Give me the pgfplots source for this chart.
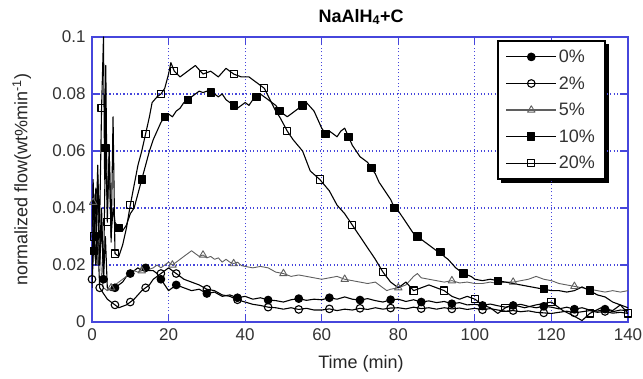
\documentclass[border=0pt]{standalone}
\usepackage{pgfplots}
\pgfplotsset{compat=1.18}
\usepackage{fontspec}
\setmainfont{Liberation Sans}
\usetikzlibrary{backgrounds}
\definecolor{axblue}{RGB}{70,70,220}
\definecolor{curvegray}{RGB}{95,95,95}
\begin{document}
\begin{tikzpicture}
\useasboundingbox (0,0) rectangle (643pt,379pt);
\begin{axis}[
  at={(92pt,57pt)}, anchor=south west,
  scale only axis, width=536pt, height=285pt,
  xmin=0, xmax=140, ymin=0, ymax=0.1,
  xtick={0,20,...,140},
  ytick={0,0.02,0.04,0.06,0.08,0.1},
  yticklabels={0,0.02,0.04,0.06,0.08,0.1},
  /pgf/number format/assume math mode=true,
  tick align=inside, major tick length=8pt,
  tick style={axblue, line width=1.2pt},
  axis line style={axblue, line width=1.5pt},
  grid=major,
  major grid style={axblue, line width=1.2pt, dash pattern=on 1.3pt off 2.2pt},
  xticklabel style={font=\fontsize{17}{20}\selectfont, text=black!80, yshift=-3pt},
  yticklabel style={font=\fontsize{17}{20}\selectfont, text=black!80, xshift=-3pt},
  xlabel={Time (min)},
  ylabel={normalized flow(wt\%min\textsuperscript{-1})},
  xlabel style={font=\fontsize{18}{21}\selectfont, text=black!85, at={(axis description cs:0.502,-0.147)}, anchor=center},
  ylabel style={font=\fontsize{18}{21}\selectfont, text=black!85, at={(axis description cs:-0.131,0.5)}, anchor=center},
  title={\textbf{NaAlH\textsubscript{4}+C}},
  title style={font=\fontsize{18}{21}\selectfont, at={(axis description cs:0.502,1.049)}, anchor=center},
  legend style={name=leg, at={(axis description cs:0.7556,0.989)}, anchor=north west,
    draw=black, line width=1.5pt, fill=white,
    font=\fontsize{18}{21}\selectfont, text=black!80,
    row sep=8.5pt, inner xsep=8pt, inner ysep=7pt, cells={anchor=west}},
  legend image code/.code={\draw[line width=1.1pt, mark repeat=2,mark phase=2] plot coordinates {(0pt,0pt) (25pt,0pt) (50pt,0pt)};},
  every axis plot/.append style={line width=1.1pt, mark size=3.8pt, line join=round},
  clip=true,
]
% 0%
\addplot[black, mark=*, mark options={solid,fill=black}, mark repeat=4, mark phase=3] coordinates {
(0,0.02)(0.5,0.045)(1,0.03)(1.5,0.055)(2,0.025)(2.5,0.04)(3,0.015)(3.5,0.03)(4,0.012)(5,0.011)(6,0.012)(7,0.013)(8,0.014)(9,0.016)(10,0.017)(11,0.018)(12,0.019)(13,0.018)(14,0.019)(15,0.018)(16,0.018)(17,0.017)(18,0.015)(19,0.013)(20,0.011)(21,0.012)(22,0.013)(24,0.012)(26,0.011)(28,0.0115)(30,0.01)(32,0.0105)(34,0.009)(36,0.0095)(38,0.0085)(40,0.009)(42,0.008)(44,0.0085)(46,0.0077)(48,0.0075)(50,0.007)(52,0.0078)(54,0.0082)(56,0.0076)(58,0.008)(60,0.0078)(62,0.0085)(64,0.008)(66,0.0088)(68,0.008)(70,0.0077)(72,0.0082)(74,0.0075)(76,0.007)(78,0.0078)(80,0.008)(82,0.0072)(84,0.0078)(86,0.007)(88,0.0074)(90,0.0068)(92,0.0072)(94,0.0064)(96,0.0068)(98,0.006)(100,0.0062)(102,0.0058)(104,0.0063)(106,0.0057)(108,0.0052)(110,0.0058)(112,0.0062)(114,0.0055)(116,0.005)(118,0.0055)(120,0.0052)(122,0.0046)(124,0.0052)(126,0.0045)(128,0.005)(130,0.0042)(132,0.0038)(134,0.0045)(136,0.0036)(138,0.0042)(140,0.004)
};
\addlegendentry{0\%}
% 2%
\addplot[black, mark=o, mark options={solid,fill=white}, mark repeat=4, mark phase=1] coordinates {
(0,0.015)(0.5,0.035)(1,0.02)(1.5,0.03)(2,0.012)(3,0.01)(4,0.008)(5,0.007)(6,0.006)(7,0.005)(8,0.0055)(9,0.006)(10,0.007)(11,0.008)(12,0.0095)(13,0.011)(14,0.012)(15,0.013)(16,0.015)(17,0.016)(18,0.017)(19,0.018)(20,0.019)(21,0.018)(22,0.017)(24,0.015)(26,0.014)(28,0.013)(30,0.0115)(32,0.011)(34,0.0095)(36,0.009)(38,0.0078)(40,0.007)(42,0.0062)(44,0.0058)(46,0.0052)(48,0.005)(50,0.0045)(52,0.005)(54,0.0044)(56,0.0048)(58,0.0042)(60,0.0042)(62,0.0046)(64,0.004)(66,0.0045)(68,0.0042)(70,0.0048)(72,0.0044)(74,0.005)(76,0.0045)(78,0.0049)(80,0.005)(82,0.0046)(84,0.0052)(86,0.0047)(88,0.005)(90,0.0045)(92,0.005)(94,0.0046)(96,0.0049)(98,0.0044)(100,0.0048)(102,0.0043)(104,0.0047)(106,0.0042)(108,0.0038)(110,0.004)(112,0.0036)(114,0.0039)(116,0.0034)(118,0.0032)(120,0.003)(122,0.0034)(124,0.0038)(126,0.0032)(128,0.0036)(130,0.004)(132,0.0034)(134,0.0037)(136,0.0031)(138,0.0034)(140,0.003)
};
\addlegendentry{2\%}
% 5%
\addplot[curvegray, line width=0.9pt, mark=triangle, mark size=4.3pt, mark options={solid,fill=white,line width=0.9pt}, mark repeat=8, mark phase=2] coordinates {
(0,0.03)(0.3,0.042)(0.7,0.028)(1,0.035)(1.5,0.02)(2,0.03)(2.5,0.015)(3,0.012)(4,0.011)(5,0.012)(6,0.013)(7,0.014)(8,0.015)(9,0.016)(10,0.017)(11,0.018)(12,0.0175)(13,0.018)(14,0.019)(15,0.0185)(16,0.019)(17,0.02)(18,0.019)(19,0.02)(20,0.021)(21,0.02)(22,0.021)(23,0.022)(24,0.023)(25,0.024)(26,0.025)(27,0.024)(28,0.023)(29,0.0235)(30,0.0225)(31,0.023)(32,0.022)(33,0.0225)(34,0.021)(35,0.022)(36,0.021)(37,0.0205)(38,0.021)(39,0.0198)(40,0.0195)(42,0.019)(44,0.0195)(46,0.019)(48,0.0175)(50,0.017)(52,0.016)(54,0.0165)(56,0.016)(58,0.0155)(60,0.015)(62,0.0155)(64,0.016)(66,0.015)(68,0.0145)(70,0.014)(72,0.0135)(74,0.014)(76,0.012)(77,0.011)(78,0.0115)(80,0.012)(82,0.013)(84,0.016)(85,0.017)(86,0.0155)(88,0.015)(90,0.0145)(92,0.014)(94,0.0145)(96,0.0137)(98,0.014)(100,0.0135)(102,0.0135)(104,0.014)(106,0.0135)(108,0.014)(110,0.014)(112,0.0145)(114,0.015)(116,0.016)(118,0.015)(120,0.0145)(122,0.0135)(124,0.013)(126,0.0125)(128,0.012)(130,0.0115)(132,0.011)(134,0.0105)(136,0.011)(138,0.0105)(140,0.011)
};
\addlegendentry{5\%}
% 10%
\addplot[black, mark=square*, mark size=3.6pt, mark options={solid,fill=black}, mark repeat=6, mark phase=3] coordinates {
(0,0.03)(0.3,0.05)(0.6,0.025)(1,0.047)(1.4,0.045)(2,0.02)(2.5,0.035)(3,0.015)(3.5,0.061)(4,0.04)(4.5,0.06)(5,0.03)(5.5,0.04)(6,0.035)(7,0.033)(8,0.032)(9,0.034)(10,0.038)(11,0.040)(12,0.045)(13,0.050)(14,0.055)(15,0.060)(16,0.064)(17,0.067)(18,0.070)(19,0.072)(20,0.073)(21,0.072)(22,0.074)(23,0.075)(24,0.077)(25,0.078)(26,0.079)(27,0.080)(28,0.081)(29,0.0805)(30,0.081)(31,0.0805)(32,0.08)(33,0.079)(34,0.08)(35,0.078)(36,0.077)(37,0.076)(38,0.075)(39,0.076)(40,0.077)(41,0.076)(42,0.078)(43,0.079)(44,0.080)(45,0.079)(46,0.078)(47,0.077)(48,0.076)(49,0.074)(50,0.073)(51,0.072)(52,0.073)(53,0.074)(54,0.075)(55,0.076)(56,0.077)(57,0.0755)(58,0.074)(59,0.071)(60,0.068)(61,0.066)(62,0.067)(63,0.066)(64,0.065)(65,0.067)(66,0.068)(67,0.065)(68,0.062)(69,0.060)(70,0.058)(71,0.057)(72,0.056)(73,0.054)(74,0.052)(75,0.049)(76,0.047)(77,0.045)(78,0.043)(79,0.040)(80,0.039)(81,0.037)(82,0.035)(83,0.033)(84,0.031)(85,0.030)(86,0.029)(87,0.028)(88,0.027)(89,0.026)(90,0.025)(91,0.0245)(92,0.023)(93,0.022)(94,0.0205)(95,0.019)(96,0.018)(97,0.017)(98,0.0165)(99,0.016)(100,0.015)(102,0.0145)(104,0.015)(106,0.0145)(108,0.014)(110,0.0135)(112,0.013)(114,0.0125)(116,0.012)(118,0.0115)(120,0.011)(122,0.011)(124,0.0105)(126,0.011)(128,0.0123)(130,0.011)(132,0.0095)(134,0.0088)(136,0.007)(138,0.006)(140,0.005)
};
\addlegendentry{10\%}
% 20%
\addplot[black, mark=square, mark size=3.6pt, mark options={solid,fill=white}, mark repeat=4, mark phase=2] coordinates {
(0,0.012)(0.5,0.03)(1,0.02)(1.5,0.05)(2,0.035)(2.5,0.075)(3,0.1)(3.3,0.05)(3.6,0.09)(4,0.035)(4.5,0.06)(5,0.028)(5.5,0.072)(6,0.024)(7,0.023)(8,0.027)(9,0.033)(10,0.041)(11,0.048)(12,0.055)(13,0.06)(14,0.066)(15,0.072)(15.7,0.077)(17,0.079)(18,0.080)(19,0.082)(20,0.087)(20.6,0.091)(21.5,0.088)(23,0.086)(25,0.088)(27,0.09)(29,0.087)(31,0.088)(33,0.086)(35,0.089)(37,0.087)(39,0.086)(41,0.086)(43,0.084)(45,0.082)(46.5,0.078)(48,0.074)(49,0.072)(51,0.067)(52.5,0.064)(55,0.06)(57,0.053)(59.5,0.05)(62,0.046)(64,0.041)(66,0.038)(68,0.034)(70,0.030)(72,0.026)(74,0.022)(76,0.0175)(78,0.014)(80,0.012)(82,0.014)(84,0.011)(86,0.012)(88,0.013)(90,0.012)(92,0.011)(94,0.009)(96,0.008)(98,0.009)(100,0.008)(102,0.006)(104,0.005)(106,0.003)(108,0.005)(110,0.006)(113,0.005)(116,0.006)(120,0.007)(123,0.004)(126,0.002)(128,0.0005)(130,0.003)(133,0.005)(136,0.004)(138,0.006)(140,0.003)
};
\addlegendentry{20\%}
\end{axis}
\begin{pgfonlayer}{background}
\fill[white] (0,0) rectangle (643pt,379pt);
\fill[black] ([xshift=3.5pt,yshift=-3.5pt]leg.south west) rectangle ([xshift=3.5pt,yshift=-3.5pt]leg.north east);
\end{pgfonlayer}
\end{tikzpicture}
\end{document}
